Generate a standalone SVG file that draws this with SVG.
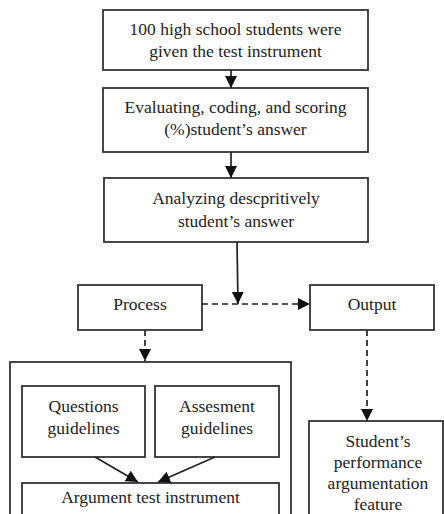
<svg xmlns="http://www.w3.org/2000/svg" width="444" height="514" viewBox="0 0 444 514">
<style>
.b{fill:#fff;stroke:#333;stroke-width:1.8}
.t{font-family:'Liberation Serif','Times New Roman',Times,'DejaVu Serif',serif;font-size:17.5px;fill:#222;text-anchor:middle}
.c{fill:none;stroke:#222;stroke-width:1.7}
.d{stroke-dasharray:6 4}
</style>
<defs>
<marker id="ah" markerUnits="userSpaceOnUse" markerWidth="14" markerHeight="14" viewBox="0 0 14 14" refX="12" refY="7" orient="auto">
<path d="M0,1 L12,7 L0,13 Z" fill="#111"/>
</marker>
</defs>
<rect width="444" height="514" fill="#fff"/>
<g id="n1"><rect class="b" x="103" y="10" width="265" height="60"/>
<text class="t" x="235.5" y="35">100 high school students were</text>
<text class="t" x="235.5" y="57">given the test instrument</text></g>
<g id="n2"><rect class="b" x="103" y="88" width="265" height="64"/>
<text class="t" x="235.5" y="113">Evaluating, coding, and scoring</text>
<text class="t" x="235.5" y="135">(%)student’s answer</text></g>
<g id="n3"><rect class="b" x="104" y="178" width="264" height="64"/>
<text class="t" x="236" y="204">Analyzing descpritively</text>
<text class="t" x="236" y="227">student’s answer</text></g>
<g id="process"><rect class="b" x="78" y="285" width="124" height="45"/>
<text class="t" x="140" y="310">Process</text></g>
<g id="output"><rect class="b" x="310" y="285" width="124" height="45"/>
<text class="t" x="372" y="310">Output</text></g>
<g id="container"><rect class="b" x="10" y="362" width="281" height="170"/></g>
<g id="questions"><rect class="b" x="22" y="386" width="123" height="71"/>
<text class="t" x="83.5" y="412">Questions</text>
<text class="t" x="83.5" y="434">guidelines</text></g>
<g id="assesment"><rect class="b" x="155" y="386" width="124" height="71"/>
<text class="t" x="217" y="412">Assesment</text>
<text class="t" x="217" y="434">guidelines</text></g>
<g id="argument"><rect class="b" x="22" y="483" width="257" height="50"/>
<text class="t" x="150.5" y="503">Argument test instrument</text></g>
<g id="result"><rect class="b" x="309" y="421" width="134" height="110"/>
<text class="t" x="378" y="447">Student’s</text>
<text class="t" x="378" y="468">performance</text>
<text class="t" x="378" y="489">argumentation</text>
<text class="t" x="378" y="510">feature</text></g>
<g id="connectors">
<line class="c" x1="231" y1="70" x2="231" y2="88" marker-end="url(#ah)"/>
<line class="c" x1="231" y1="152" x2="231" y2="178" marker-end="url(#ah)"/>
<line class="c" x1="237" y1="242" x2="238" y2="304" marker-end="url(#ah)"/>
<line class="c d" x1="202" y1="304" x2="310" y2="304" marker-end="url(#ah)"/>
<line class="c d" x1="145" y1="330" x2="145" y2="361" marker-end="url(#ah)"/>
<line class="c d" x1="367" y1="330" x2="367" y2="421" marker-end="url(#ah)"/>
<line class="c" x1="95" y1="457" x2="138" y2="482" marker-end="url(#ah)"/>
<line class="c" x1="215" y1="457" x2="158" y2="482" marker-end="url(#ah)"/>
</g>
</svg>
